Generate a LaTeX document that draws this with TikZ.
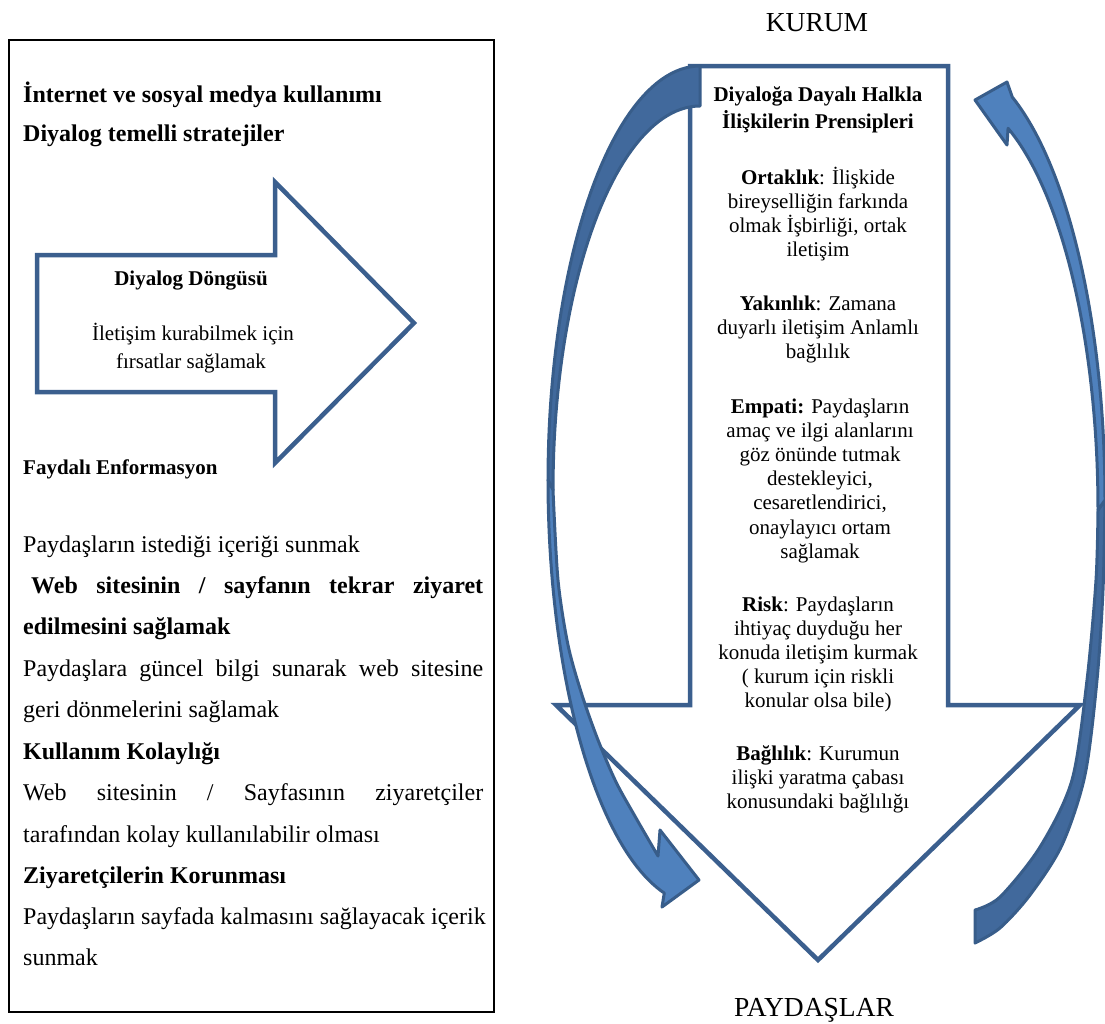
\documentclass[tikz,border=0pt]{standalone}
\usepackage{fontspec}
\setmainfont{Liberation Serif}
\definecolor{arrowblue}{HTML}{3B5F8E}
\definecolor{curvefront}{HTML}{4F81BD}
\definecolor{curveback}{HTML}{41699C}
\definecolor{curveline}{HTML}{385D8A}
\tikzset{
  blockarrow/.style={draw=arrowblue, line width=4.5pt, fill=white, line join=miter},
  ribbonfront/.style={draw=curveline, fill=curvefront, line width=3pt, line join=round},
  ribbonback/.style={draw=curveline, fill=curveback, line width=3pt, line join=round},
  lefttxt/.style={anchor=base west, inner sep=0pt, font=\fontsize{24}{28}\selectfont},
  leftbold/.style={anchor=base west, inner sep=0pt, font=\fontsize{24}{28}\selectfont\bfseries},
  smallbold/.style={anchor=base west, inner sep=0pt, font=\fontsize{21}{24}\selectfont\bfseries},
  cyctxt/.style={anchor=base, inner sep=0pt, font=\fontsize{21}{24}\selectfont},
  prtxt/.style={anchor=base, inner sep=0pt, font=\fontsize{21}{24}\selectfont},
  endlabel/.style={anchor=base, inner sep=0pt, font=\fontsize{27.5}{32}\selectfont}
}
\begin{document}
\begin{tikzpicture}[x=1pt,y=-1pt]
\useasboundingbox (0,0) rectangle (1105,1023);

% ---------- left panel ----------
\draw[line width=2.2pt, black] (9,40) rectangle (494,1012);

\node[leftbold] (h1) at (23,102) {İnternet ve sosyal medya kullanımı};
\node[leftbold] (h2) at (23,141) {Diyalog temelli stratejiler};

% dialogue loop arrow
\draw[blockarrow] (37,255) -- (275,255) -- (275,182) -- (414,323) -- (275,463)
  -- (275,392) -- (37,392) -- cycle;
\node[cyctxt, font=\fontsize{21}{24}\selectfont\bfseries] (loop) at (191,285) {Diyalog Döngüsü};
\node[cyctxt] (loop1) at (193,340) {İletişim kurabilmek için};
\node[cyctxt] (loop2) at (191,368) {fırsatlar sağlamak};

\node[smallbold] (info) at (23,474) {Faydalı Enformasyon};

\node[lefttxt] (l1) at (23,552) {Paydaşların istediği içeriği sunmak};
\node[leftbold] (l2) at (31,593) {\makebox[452pt][s]{Web sitesinin / sayfanın tekrar ziyaret}};
\node[leftbold] (l3) at (23,634) {edilmesini sağlamak};
\node[lefttxt] (l4) at (23,676) {\makebox[460pt][s]{Paydaşlara güncel bilgi sunarak web sitesine}};
\node[lefttxt] (l5) at (23,717) {geri dönmelerini sağlamak};
\node[leftbold] (l6) at (23,759) {Kullanım Kolaylığı};
\node[lefttxt] (l7) at (23,800) {\makebox[460pt][s]{Web sitesinin / Sayfasının ziyaretçiler}};
\node[lefttxt] (l8) at (23,842) {tarafından kolay kullanılabilir olması};
\node[leftbold] (l9) at (23,883) {Ziyaretçilerin Korunması};
\node[lefttxt] (l10) at (23,924) {Paydaşların sayfada kalmasını sağlayacak içerik};
\node[lefttxt] (l11) at (23,965) {sunmak};

% ---------- right panel ----------
\node[endlabel] (kurum) at (817,31) {KURUM};
\node[endlabel] (paydas) at (814,1016) {PAYDAŞLAR};

% principles arrow (pointing down)
\draw[blockarrow] (690,66) -- (948,66) -- (948,705) -- (1080,705) -- (818,960)
  -- (556,705) -- (690,705) -- cycle;

% left curved ribbon arrow: back face (upper half)
\filldraw[ribbonback]
  plot[domain=-90:-180, samples=50, variable=\t] ({700+152*cos(\t)},{480+414*sin(\t)})
  -- plot[domain=180:270, samples=50, variable=\t] ({700+147*cos(\t)},{490+384*sin(\t)})
  -- cycle;
% right curved ribbon arrow: back face (lower half)
\filldraw[ribbonback]
  plot[smooth] coordinates {(1105,500) (1103,590) (1097,680) (1085,775) (1062,845) (1030,895) (1000,928) (975,943)}
  -- plot[smooth] coordinates {(975,910) (1000,897) (1040,847) (1072,780) (1087,680) (1096,580) (1098,510)}
  -- cycle;
% left curved ribbon arrow: front face with head
\filldraw[ribbonfront]
  plot[domain=180:103.6, samples=50, variable=\t] ({700+152*cos(\t)},{480+425*sin(\t)})
  -- (662,907) -- (699,880) -- (660,830)
  -- plot[smooth] coordinates {(658,856) (636,818) (616,782) (598,740) (582,695) (568,645) (558,580) (553,490)}
  -- cycle;
% right curved ribbon arrow: front face with head
\filldraw[ribbonfront]
  (1007,82)
  -- plot[domain=-66.3:0, samples=50, variable=\t] ({950+155*cos(\t)},{500+440*sin(\t)})
  -- plot[domain=0:-66.9, samples=50, variable=\t] ({950+148*cos(\t)},{510+415*sin(\t)})
  -- (1007,145) -- (975,100) -- cycle;

% principles text
\node[prtxt, font=\fontsize{21}{24}\selectfont\bfseries] (p0a) at (818,101) {Diyaloğa Dayalı Halkla};
\node[prtxt, font=\fontsize{21}{24}\selectfont\bfseries] (p0b) at (818,128) {İlişkilerin Prensipleri};

\foreach [count=\i] \ln in {{\textbf{Ortaklık}: İlişkide}, {bireyselliğin farkında}, {olmak İşbirliği, ortak}, {iletişim}}
  \node[prtxt] (pa\i) at (818,{184+24.2*(\i-1)}) {\ln};
\foreach [count=\i] \ln in {{\textbf{Yakınlık}: Zamana}, {duyarlı iletişim Anlamlı}, {bağlılık}}
  \node[prtxt] (pb\i) at (818,{310+24.2*(\i-1)}) {\ln};
\foreach [count=\i] \ln in {{\textbf{Empati:} Paydaşların}, {amaç ve ilgi alanlarını}, {göz önünde tutmak}, {destekleyici,}, {cesaretlendirici,}, {onaylayıcı ortam}, {sağlamak}}
  \node[prtxt] (pc\i) at (820,{413+24.2*(\i-1)}) {\ln};
\foreach [count=\i] \ln in {{\textbf{Risk}: Paydaşların}, {ihtiyaç duyduğu her}, {konuda iletişim kurmak}, {( kurum için riskli}, {konular olsa bile)}}
  \node[prtxt] (pd\i) at (818,{611+24.2*(\i-1)}) {\ln};
\foreach [count=\i] \ln in {{\textbf{Bağlılık}: Kurumun}, {ilişki yaratma çabası}, {konusundaki bağlılığı}}
  \node[prtxt] (pe\i) at (818,{760+24.2*(\i-1)}) {\ln};
\end{tikzpicture}
\end{document}
